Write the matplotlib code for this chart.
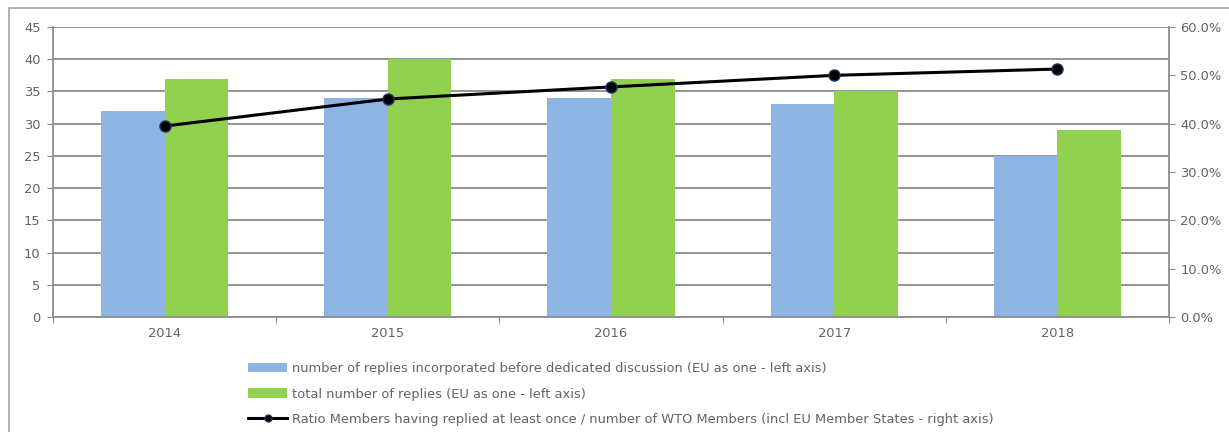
import matplotlib
matplotlib.use("Agg")
import matplotlib.pyplot as plt
import numpy as np
from matplotlib.lines import Line2D
from matplotlib.patches import Rectangle
from matplotlib.ticker import FuncFormatter

years = ["2014", "2015", "2016", "2017", "2018"]
replies_before = [32, 34, 34, 33, 25]
replies_total = [37, 40, 37, 35, 29]
ratio_replied = [0.395, 0.451, 0.476, 0.500, 0.513]

label_before = "number of replies incorporated before dedicated discussion (EU as one - left axis)"
label_total = "total number of replies (EU as one - left axis)"
label_ratio = ("Ratio Members having replied at least once / number of WTO Members "
               "(incl EU Member States - right axis)")

plt.rcParams["font.family"] = ["DejaVu Sans"]
text_color = "#636363"
grid_color = "#8c8c8c"
fsize = 9.4

fig = plt.figure(figsize=(12.29, 4.32), dpi=100)
# outer chart frame (right/bottom edges run off the picture)
fig.patches.append(Rectangle((9 / 1229, -0.05), 1.2, 1 - 8 / 432 + 0.05,
                             transform=fig.transFigure, fill=False,
                             edgecolor="#a6a6a6", linewidth=1.2))

ax = fig.add_axes([53 / 1229, 1 - 317 / 432, (1169 - 53) / 1229, (317 - 27) / 432])
x = np.arange(len(years))
width = 0.285

b1 = ax.bar(x - width / 2, replies_before, width, color="#8eb4e3", label=label_before, zorder=2)
b2 = ax.bar(x + width / 2, replies_total, width, color="#92d050", label=label_total, zorder=2)

ax.set_ylim(0, 45)
ax.set_yticks(range(0, 46, 5))
ax.set_xlim(-0.5, len(years) - 0.5)
ax.set_xticks(np.arange(-0.5, len(years), 1))
ax.set_xticklabels([])
ax.set_xticks(x, minor=True)
ax.set_xticklabels(years, minor=True)
ax.tick_params(axis="x", which="major", length=4, color=grid_color, direction="out")
ax.tick_params(axis="x", which="minor", length=0, pad=7, labelsize=fsize, labelcolor=text_color)
ax.tick_params(axis="y", length=4, color=grid_color, labelsize=fsize, labelcolor=text_color, pad=5)
ax.yaxis.grid(True, color=grid_color, linewidth=1.3, zorder=0)
ax.set_axisbelow(True)
for side in ["top", "right"]:
    ax.spines[side].set_visible(False)
for side in ["left", "bottom"]:
    ax.spines[side].set_color(grid_color)
    ax.spines[side].set_linewidth(1.3)

ax2 = ax.twinx()
ln, = ax2.plot(x, ratio_replied, color="black", linewidth=2.2, marker="o",
               markersize=8, markerfacecolor="black", markeredgecolor="#1f3864",
               label=label_ratio, zorder=3)
ax2.set_ylim(0, 0.6)
ax2.set_yticks(np.arange(0, 0.61, 0.1))
ax2.yaxis.set_major_formatter(FuncFormatter(lambda v, _: f"{v * 100:.1f}%"))
ax2.tick_params(axis="y", length=4, color=grid_color, labelsize=fsize, labelcolor=text_color, pad=4)
for side in ["top", "left", "bottom"]:
    ax2.spines[side].set_visible(False)
ax2.spines["right"].set_color(grid_color)
ax2.spines["right"].set_linewidth(1.3)

# legend uses a smaller marker like the original
ln_handle = Line2D([], [], color="black", linewidth=2.2, marker="o", markersize=5,
                   markerfacecolor="black", markeredgecolor="#1f3864")

fig.legend(handles=[b1, b2, ln_handle], labels=[label_before, label_total, label_ratio],
           loc="upper left", bbox_to_anchor=(243 / 1229, 1 - 357 / 432), frameon=False,
           fontsize=fsize, labelcolor=text_color, handlelength=3.0,
           handletextpad=0.35, labelspacing=0.95, borderaxespad=0)

fig.savefig("out.png", dpi=100)
